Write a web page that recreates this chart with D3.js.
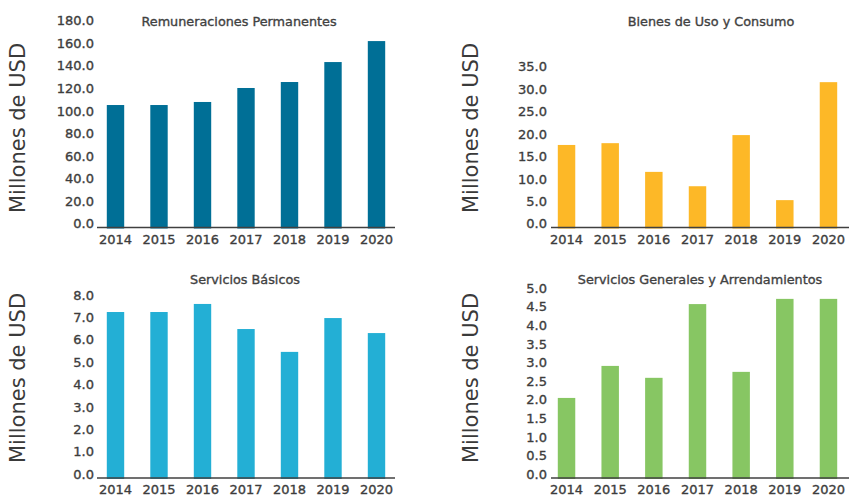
<!DOCTYPE html>
<html>
<head>
<meta charset="utf-8">
<script src="https://cdn.jsdelivr.net/npm/d3@7"></script>
<style>
  body { margin: 0; background: #fff; }
  svg { display: block; font-family: "DejaVu Sans", sans-serif; }
</style>
</head>
<body>
<svg id="chart" width="849" height="496"></svg>
<script>
// values (millones de USD)
const years = ['2014', '2015', '2016', '2017', '2018', '2019', '2020']
const remuneraciones = [108.6, 108.6, 111.3, 123.7, 129.0, 146.7, 165.3]
const bienes = [18.4, 18.8, 12.4, 9.2, 20.6, 6.1, 32.4]
const basicos = [7.41, 7.41, 7.77, 6.65, 5.63, 7.14, 6.47]
const generales = [2.15, 3.01, 2.69, 4.67, 2.85, 4.81, 4.81]

const ticksRem = [0, 20, 40, 60, 80, 100, 120, 140, 160, 180]
const ticksBienes = [0, 5, 10, 15, 20, 25, 30, 35]
const ticksBasicos = [0, 1, 2, 3, 4, 5, 6, 7, 8]
const ticksGenerales = [0, 0.5, 1, 1.5, 2, 2.5, 3, 3.5, 4, 4.5, 5]

const panels = [
    { title: 'Remuneraciones Permanentes', values: remuneraciones, ticks: ticksRem, color: '#006f96',
      x0: 93.75, x1: 398.25, line: [97, 395], y0: 227.5, y1: 24.5, labelX: 94, titleX: 239, titleY: 21, axTitle: [18, 128] },
    { title: 'Bienes de Uso y Consumo', values: bienes, ticks: ticksBienes, color: '#fdb827',
      x0: 544.7, x1: 850.3, line: [551, 849], y0: 227.5, y1: 70.5, labelX: 547, titleX: 711, titleY: 21, axTitle: [471, 128] },
    { title: 'Servicios Básicos', values: basicos, ticks: ticksBasicos, color: '#23afd5',
      x0: 93.75, x1: 398.25, line: [97, 395], y0: 478, y1: 298.8, labelX: 94, titleX: 245, titleY: 279.5, axTitle: [18, 378] },
    { title: 'Servicios Generales y Arrendamientos', values: generales, ticks: ticksGenerales, color: '#87c663',
      x0: 544.7, x1: 850.3, line: [551, 849], y0: 478, y1: 291.8, labelX: 547, titleX: 700, titleY: 279.5, axTitle: [471, 378] }
]

const svg = d3.select('#chart')
const textColor = '#3d3d3d'

// the reference font is a medium weight, thicken the regular face a bit
const medium = sel => sel
    .attr('stroke', textColor)
    .attr('stroke-width', 0.35)

panels.forEach(p => {
    const g = svg.append('g')
    const top = p.ticks[p.ticks.length - 1]

    const x = d3.scaleBand()
        .domain(years)
        .range([p.x0, p.x1])
        .paddingInner(0.6)
        .paddingOuter(0.3)

    const y = d3.scaleLinear()
        .domain([0, top])
        .range([p.y0, p.y1])

    g.selectAll('rect')
        .data(p.values)
        .enter()
        .append('rect')
        .attr('x', (d, i) => x(years[i]))
        .attr('width', x.bandwidth())
        .attr('y', d => y(d))
        .attr('height', d => y(0) - y(d) + 1)
        .attr('fill', p.color)

    // baseline
    g.append('line')
        .attr('x1', p.line[0])
        .attr('x2', p.line[1])
        .attr('y1', y(0))
        .attr('y2', y(0))
        .attr('stroke', '#404040')
        .attr('stroke-width', 1.5)

    const yAxis = d3.axisLeft(y)
        .tickValues(p.ticks)
        .tickSize(0)
        .tickPadding(0)
        .tickFormat(d3.format('.1f'))

    g.append('g')
        .attr('transform', `translate(${p.labelX},-3.8)`)
        .call(yAxis)
        .call(a => a.select('.domain').remove())
        .selectAll('text')
        .attr('font-size', 13)
        .attr('font-family', '"DejaVu Sans", sans-serif')
        .attr('fill', textColor)
        .call(medium)

    const xAxis = d3.axisBottom(x)
        .tickSize(0)
        .tickPadding(7)

    g.append('g')
        .attr('transform', `translate(0,${y(0)})`)
        .call(xAxis)
        .call(a => a.select('.domain').remove())
        .selectAll('text')
        .attr('font-size', 13)
        .attr('font-family', '"DejaVu Sans", sans-serif')
        .attr('fill', textColor)
        .call(medium)

    g.append('text')
        .attr('x', p.titleX)
        .attr('y', p.titleY)
        .attr('text-anchor', 'middle')
        .attr('dominant-baseline', 'central')
        .attr('font-size', 12.8)
        .attr('fill', '#444')
        .text(p.title)
        .call(medium)

    g.append('text')
        .attr('transform', `translate(${p.axTitle[0]},${p.axTitle[1]}) rotate(-90)`)
        .attr('text-anchor', 'middle')
        .attr('dominant-baseline', 'central')
        .attr('font-size', 21)
        .attr('fill', '#3a3a3a')
        .text('Millones de USD')
})
</script>
</body>
</html>
